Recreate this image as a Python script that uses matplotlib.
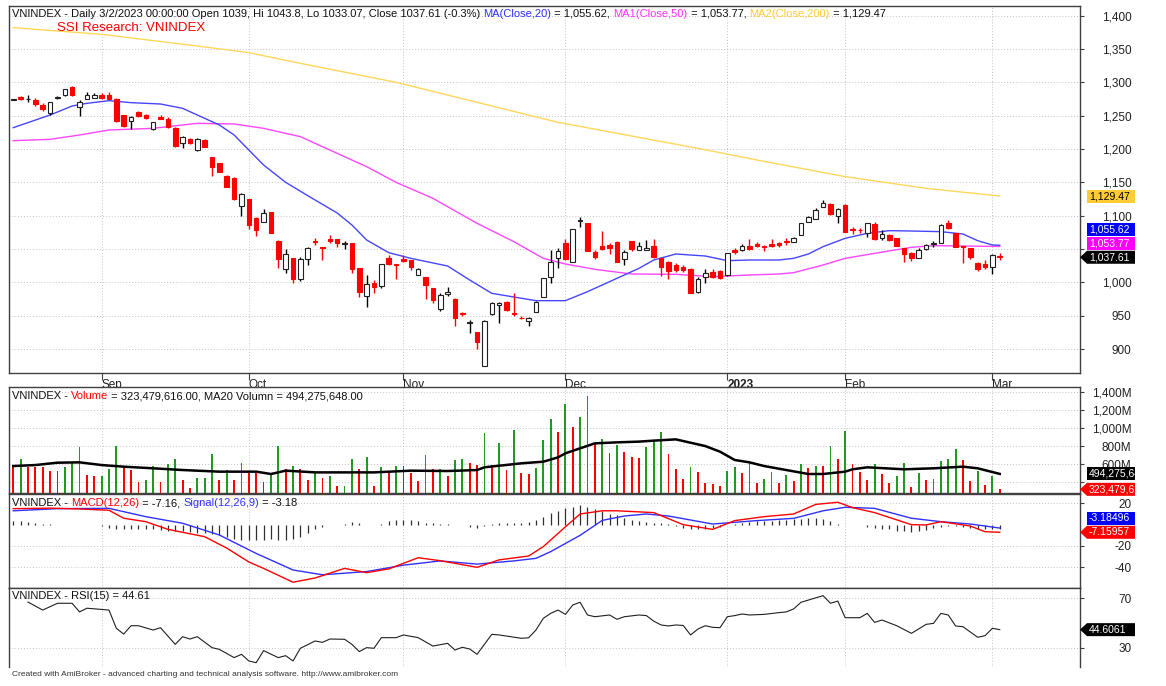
import numpy as np
import matplotlib
matplotlib.use("Agg")
import matplotlib.pyplot as plt
from matplotlib.patches import Polygon
from matplotlib.transforms import IdentityTransform, Bbox

plt.rcParams['font.family'] = ['Liberation Sans', 'DejaVu Sans']

W, H = 1166, 686

# ---- daily bars, 16 Aug 2022 .. 2 Mar 2023 (bar index 0..134) ----
opens = [1274, 1277.5, 1274.5, 1273.5, 1265.5, 1253.5, 1276.5, 1281, 1292.5, 1263.5,
         1275, 1276, 1280.5, 1280.5, 1275, 1251, 1242, 1255, 1251, 1230,
         1248, 1245, 1232, 1208.5, 1214.5, 1198.5, 1213.5, 1187.5, 1178.5, 1159.5,
         1157, 1114.5, 1124.5, 1096, 1091, 1105, 1062, 1019.5, 1036, 1004.5,
         1034.5, 1062.5, 1052.5, 1064.5, 1064.5, 1057.5, 1058.5, 1021, 980, 999.5,
         994.5, 1036, 1027.5, 1034.5, 1033.5, 1011, 1007.5, 991, 959.5, 982,
         975, 953.5, 939.5, 925, 875, 952, 966, 971, 953.5, 947,
         942, 956, 978.5, 1007.5, 1036, 1058.5, 1031, 1092, 1088.5, 1046,
         1054.5, 1056, 1060, 1035, 1062, 1048.5, 1048.5, 1054.5, 1036, 1031,
         1026, 1022.5, 1019.5, 985, 1007.5, 1016, 1017.5, 1011, 1048.5, 1048.5,
         1055, 1057.5, 1054.5, 1057.5, 1058.5, 1062.5, 1061, 1071, 1091, 1095,
         1113.5, 1117.5, 1100, 1116, 1079.5, 1079, 1073.5, 1087.5, 1067, 1071,
         1066, 1051, 1044.5, 1036, 1049.5, 1058, 1059.5, 1089.5, 1073.5, 1054,
         1051, 1028.5, 1027.5, 1022.5, 1039]
highs = [1275, 1279.5, 1281, 1276, 1268.5, 1270.5, 1279, 1290, 1294.5, 1273.5,
         1286, 1283.5, 1283.5, 1286, 1276, 1251, 1249.5, 1257, 1252.5, 1241,
         1250.5, 1247.5, 1233, 1219.5, 1217, 1216, 1214.5, 1188.5, 1179.5, 1160.5,
         1158, 1134.5, 1125, 1098.5, 1109.5, 1106, 1063, 1049.5, 1037, 1037.5,
         1053.5, 1066, 1053, 1071, 1065, 1062.5, 1059.5, 1022, 1011, 1003.5,
         1028, 1041, 1028, 1041, 1034, 1022, 1008, 992, 983.5, 992.5,
         976, 956, 943.5, 926, 943.5, 971, 971, 972.5, 983.5, 949.5,
         948.5, 972, 1007, 1048.5, 1051, 1064.5, 1080, 1097.5, 1089.5, 1048.5,
         1077.5, 1059.5, 1062.5, 1048.5, 1062.5, 1061, 1063.5, 1064.5, 1037, 1032,
         1028.5, 1026, 1021, 1008.5, 1019.5, 1019.5, 1018.5, 1044.5, 1051, 1057,
         1064.5, 1061, 1056, 1064.5, 1061, 1066, 1068.5, 1089, 1099.5, 1111,
         1123.5, 1118.5, 1111, 1117, 1082.5, 1081, 1089.5, 1091, 1078.5, 1073,
         1067, 1052, 1045.5, 1051, 1057.5, 1062.5, 1087.5, 1093.5, 1074.5, 1054.5,
         1052, 1031, 1033.5, 1042, 1043.8]
lows = [1273, 1273.5, 1271, 1264.5, 1257, 1251, 1275.5, 1280, 1280, 1250,
        1275, 1276, 1275.5, 1275.5, 1241, 1233.5, 1229.5, 1248.5, 1244.5, 1229,
        1244.5, 1231, 1203.5, 1201, 1207.5, 1197, 1202.5, 1159.5, 1165, 1142.5,
        1123, 1099.5, 1079.5, 1069.5, 1091, 1073.5, 1022, 1013.5, 999.5, 1002.5,
        1026, 1056, 1033.5, 1058.5, 1052.5, 1049.5, 1014.5, 977.5, 962.5, 984.5,
        991, 1026, 1005, 1031, 1018.5, 1011, 974.5, 969.5, 957.5, 979.5,
        935, 949.5, 923.5, 900, 874.5, 951, 939.5, 957.5, 949.5, 944.5,
        935, 955, 978, 998.5, 1021, 1033.5, 1030, 1083.5, 1046.5, 1034.5,
        1048.5, 1042.5, 1031, 1026, 1047.5, 1048.5, 1048.5, 1036, 1009.5, 1004.5,
        1016, 1016, 983.5, 983.5, 999.5, 1006, 1005.5, 1010, 1042.5, 1047.5,
        1048.5, 1053.5, 1047.5, 1053.5, 1053.5, 1056, 1061, 1070.5, 1091, 1095,
        1112.5, 1101.5, 1089.5, 1075, 1072.5, 1073.5, 1068.5, 1063.5, 1063.5, 1062.5,
        1054, 1031, 1032.5, 1036, 1048.5, 1053.5, 1058.5, 1080, 1052.5, 1029.5,
        1034.5, 1017.5, 1019.5, 1012.5, 1033.07]
closes = [1274.5, 1274.5, 1274.5, 1267.5, 1259.5, 1270.5, 1277.5, 1289.5, 1281.5, 1270,
          1281, 1281, 1276.5, 1275.5, 1242.5, 1234.5, 1248.5, 1250, 1247, 1240.5,
          1245.5, 1232.5, 1205, 1218.5, 1209.5, 1215.5, 1203.5, 1173.5, 1166, 1143.5,
          1124.5, 1132, 1086, 1078.5, 1103.5, 1074.5, 1035, 1042.5, 1004.5, 1034.5,
          1051, 1061, 1051, 1061.5, 1059.5, 1059.5, 1019.5, 986, 997.5, 992.5,
          1027, 1027, 1026.5, 1032.5, 1022.5, 1019.5, 996, 973.5, 981, 985,
          947, 953, 940.5, 910, 942.5, 968.5, 968.5, 958.5, 952.5, 946.5,
          947, 971, 1006, 1031, 1047.5, 1035, 1079.5, 1093, 1047.5, 1038.5,
          1049.5, 1051, 1031, 1046, 1049.5, 1054.5, 1052, 1037.5, 1022.5, 1017.5,
          1018.5, 1018.5, 984.5, 1004.5, 1014.5, 1007.5, 1006, 1043.5, 1046, 1055,
          1050, 1054.5, 1052.5, 1054.5, 1056, 1061, 1066, 1088.5, 1097.5, 1108.5,
          1118.5, 1102, 1109.5, 1076, 1078.5, 1078.5, 1088.5, 1064.5, 1072.5, 1063.5,
          1055, 1042.5, 1036, 1048.5, 1056, 1058.5, 1086, 1081, 1053.5, 1052.5,
          1037.5, 1020, 1022.5, 1041, 1037.61]

# volume in millions of shares
volume_m = [582, 656, 575, 575, 575, 531, 531, 568, 612, 796,
            483, 472, 476, 546, 803, 568, 538, 402, 428, 582,
            402, 604, 656, 428, 343, 446, 450, 715, 428, 538,
            428, 619, 520, 509, 409, 509, 803, 549, 582, 546,
            428, 509, 446, 476, 361, 365, 656, 549, 678, 361,
            575, 527, 582, 582, 501, 420, 704, 546, 550, 472,
            649, 656, 612, 593, 943, 593, 840, 538, 980, 501,
            494, 557, 870, 1098, 962, 1267, 1017, 1120, 1356, 832,
            880, 729, 814, 740, 677, 666, 795, 858, 954, 714,
            545, 434, 574, 519, 397, 379, 360, 526, 574, 508,
            618, 397, 434, 519, 397, 482, 419, 604, 563, 581,
            581, 806, 659, 972, 604, 519, 427, 604, 493, 390,
            474, 611, 345, 500, 427, 438, 637, 659, 769, 648,
            419, 526, 371, 474, 323.48]

# moving averages read at sample bars
ma20_bars = [0, 5, 8, 10, 13, 16, 20, 23, 25, 28, 30, 32, 34, 37, 40, 44, 46, 48, 51,
             54, 59, 62, 65, 71, 75, 78, 81, 85, 87, 90, 94, 97, 100, 104, 106, 108,
             110, 113, 116, 119, 122, 126, 129, 131, 133, 134]
ma20_vals = [1232, 1251, 1264.5, 1268.5, 1272.5, 1269.5, 1267.5, 1261, 1251, 1236, 1221,
             1198.5, 1176, 1150, 1130, 1104, 1086, 1063.5, 1044.5, 1036, 1024.5, 1003.5,
             983.5, 972.5, 972.5, 986, 1001, 1021, 1033.5, 1042.5, 1039.5, 1032.5,
             1033.5, 1033.5, 1036, 1042.5, 1053.5, 1066, 1073.5, 1077.5, 1077, 1076,
             1072.5, 1062.5, 1056, 1055.62]
ma50_bars = [0, 5, 9, 13, 19, 25, 30, 34, 39, 43, 48, 52, 57, 63, 68, 72, 75, 79, 84,
             90, 95, 100, 104, 106, 110, 113, 117, 122, 125, 129, 134]
ma50_vals = [1212.5, 1214.5, 1221, 1228.5, 1231, 1238.5, 1237.5, 1231, 1218.5, 1198.5,
             1173.5, 1150, 1126, 1088.5, 1061, 1036, 1027.5, 1019.5, 1012.5, 1012,
             1008.5, 1011, 1012.5, 1014.5, 1026, 1036, 1043.5, 1052.5, 1055, 1054.5,
             1053.77]
ma200_bars = [0, 12, 25, 32, 39, 52, 74, 93, 101, 113, 124, 134]
ma200_vals = [1382, 1372, 1354.5, 1344.5, 1328.5, 1300, 1240, 1201, 1183.5, 1158.5,
              1141, 1129.47]
vol_ma_bars = [0, 3, 6, 9, 12, 15, 19, 23, 28, 33, 35, 37, 41, 49, 54, 59, 63, 64, 69,
               72, 74, 75, 77, 79, 82, 85, 87, 90, 94, 96, 98, 100, 102, 105, 108, 110,
               113, 114, 116, 121, 125, 129, 131, 134]
vol_ma_vals = [581, 592, 618, 622, 592, 574, 556, 537, 519, 519, 493, 530, 511, 511, 530,
               526, 537, 567, 611, 629, 677, 722, 777, 832, 843, 851, 862, 876, 802, 740,
               648, 622, 581, 537, 493, 493, 519, 545, 567, 545, 556, 574, 556, 494.28]

# MACD(12,26), signal(12,26,9), histogram
macd_bars = [0, 5, 9, 13, 15, 18, 21, 26, 29, 32, 34, 38, 41, 45, 48, 51, 55, 58, 63,
             66, 70, 72, 75, 77, 80, 82, 87, 91, 95, 98, 102, 106, 109, 112, 114, 117,
             122, 124, 126, 130, 132, 134]
macd_vals = [15, 15.5, 14.7, 13.5, 6, 2.8, -4.4, -11.3, -22, -35, -41, -54, -50, -41,
             -45, -41.5, -31, -33.8, -40, -33, -29.4, -20.6, -2, 10, 13, 13, 11.3, 0,
             -4.4, 3.8, 7.5, 10, 19, 21, 16, 11.3, 0, -0.3, 2.8, -1.3, -6.6, -7.16]
signal_bars = [0, 6, 13, 18, 23, 28, 33, 38, 42, 48, 53, 58, 63, 68, 71, 73, 77, 80, 83,
               86, 89, 95, 101, 106, 110, 113, 117, 122, 126, 130, 134]
signal_vals = [13, 15, 15.3, 7.5, 1.3, -9.7, -27, -42.5, -47, -44, -38, -34, -37, -34,
               -31.6, -25.3, -10, 4, 8.1, 10, 8.1, 0.6, 3.8, 5.9, 13, 16.3, 15.3, 6, 2.8,
               0.6, -3.18]
hist_vals = [3, 3, 2.5, 2, 0.5, 0.3, 0, 0, -0.3, -0.3, -0.5, -0.5,
             -1, -3, -4.4, -4.4, -4.4, -4.4, -4.4, -4.4, -5, -5.5, -6,
             -6, -7, -8, -8, -8.5, -10, -12, -13, -14, -14,
             -14, -14, -13, -14, -14, -13,
             -12, -8, -4.4, -2, -0.5, 0, 1, 2.5, 1.5, 0, 0, 0.5,
             3, 4.4, 4.4, 4.4, 3.5, 2, 1.5, 1, 0.5, 0,
             -0.5, -2, -3, -1, 0.5, 1.5, 2, 2, 2, 2.5,
             4, 7, 11, 13, 16, 17,
             18, 17, 15, 13, 10, 9, 6, 4.4, 3, 2.5,
             2, 1.5, 0.5, -1.5, -3, -4, -4.5, -4.5, -3.5, -2, -0.5, 0.5,
             1.5, 2.5, 3, 3.5, 3.5, 4, 4.5, 5, 5.5, 6, 6, 5.5,
             3, 1, 0, 0, -0.5, -2, -3, -4, -4.5, -5.5, -6, -6.5,
             -6, -5, -3.5, -2, -1, -1, -2, -3, -4, -4.5, -4.5, -4]

# RSI(15)
rsi_bars = [2, 4, 6, 8, 9, 10, 12, 13, 14, 15, 16, 17, 19, 20, 22, 23, 24, 25, 27, 28,
            30, 31, 32, 33, 34, 36, 37, 38, 39, 41, 42, 43, 45, 46, 47, 48, 49, 50, 52,
            53, 55, 57, 59, 60, 61, 62, 63, 65, 66, 69, 70, 71, 72, 73, 74, 75, 76, 77,
            78, 79, 81, 82, 83, 85, 86, 87, 88, 89, 90, 91, 92, 93, 94, 95, 96, 97, 98,
            99, 100, 102, 104, 105, 106, 107, 108, 110, 111, 112, 113, 115, 116, 117,
            118, 120, 122, 124, 125, 126, 127, 128, 129, 131, 132, 133, 134]
rsi_vals = [67, 60.5, 66, 66, 59, 62, 61, 60.5, 45.7, 41, 47.8, 47.8, 44.3, 46.2, 32.7,
            38.9, 37, 38.9, 30, 28.6, 21.9, 24.6, 19.2, 17.8, 27.6, 21.9, 23.5, 19.2, 29.5,
            35.4, 34.3, 37, 36.8, 32.7, 26.8, 30, 29.5, 38.1, 38.1, 40.3, 38.1, 31.3, 33.5,
            28.1, 30.3, 28.9, 24.6, 40.8, 40.3, 37.6, 38, 44.3, 53.8, 57.8, 60.5, 57, 64.6,
            66.8, 56.5, 55.1, 56.5, 53, 55.1, 56.5, 56, 51.5, 48.4, 47.6, 48.4, 48, 40.3,
            45.1, 47.8, 46.5, 46.2, 55.1, 56, 57.3, 56.5, 57, 58.4, 59, 61.4, 66.8, 68.6,
            72.2, 66, 67.8, 54.3, 54.3, 57.8, 50.5, 52.4, 47.8, 41.6, 48.9, 49.7, 57.8,
            56.5, 47.6, 47, 38.4, 39.7, 45.7, 44.61]

month_bars = [12, 32, 53, 75, 97, 113, 133]
month_labels = ['Sep', 'Oct', 'Nov', 'Dec', '2023', 'Feb', 'Mar']

price_ticks = [900, 950, 1000, 1050, 1100, 1150, 1200, 1250, 1300, 1350, 1400]
vol_ticks = [400, 600, 800, 1000, 1200, 1400]
macd_ticks = [20, -20, -40]
rsi_ticks = [30, 70]

RED = '#ff0000'
GREEN = '#229922'
BLUE = '#4646ff'
MAGENTA = '#ff46ff'
YELLOW = '#ffd75a'
FRAME = '#404040'
GRID = dict(color='#c4c4c4', linestyle=(0, (1, 2)), linewidth=0.7)

fig = plt.figure(figsize=(W / 100, H / 100), dpi=100)


def pane(top, bottom):
    ax = fig.add_axes([9 / W, 1 - bottom / H, 1071 / W, (bottom - top) / H])
    ax.set_xlim(-0.58, 144.9)
    ax.set_xticks(month_bars)
    ax.set_xticklabels([])
    ax.tick_params(axis='x', length=0)
    ax.yaxis.tick_right()
    ax.tick_params(axis='y', direction='out', length=3, width=0.8, color=FRAME,
                   labelsize=8.5, labelcolor='#222222', pad=34)
    for s in ax.spines.values():
        s.set_color(FRAME)
        s.set_linewidth(1)
    ax.grid(True, **GRID)
    ax.set_axisbelow(True)
    return ax


def set_yticks(ax, ticks, labels):
    ax.set_yticks(ticks)
    ax.set_yticklabels(labels, ha='right')


ax_p = pane(6, 373)
ax_v = pane(387, 493)
ax_m = pane(494, 588)
ax_r = pane(588, 667)
ax_r.spines['bottom'].set_visible(False)

idx = np.arange(len(closes))
o = np.array(opens)
c = np.array(closes)
up = c >= o

# ---- price pane ----
ax_p.plot(ma200_bars, ma200_vals, color=YELLOW, lw=1, zorder=2)
ax_p.plot(ma50_bars, ma50_vals, color=MAGENTA, lw=1, zorder=2)
ax_p.plot(ma20_bars, ma20_vals, color=BLUE, lw=1, zorder=2)
ax_p.vlines(idx, lows, highs, colors=np.where(up, '#000000', RED), lw=1, zorder=3)
ax_p.bar(idx, np.maximum(np.abs(c - o), 0.6), bottom=np.minimum(o, c), width=0.62,
         color=np.where(up, 'white', RED), edgecolor=np.where(up, '#202020', RED),
         linewidth=0.8, zorder=4)
ax_p.set_ylim(864, 1414.5)
set_yticks(ax_p, price_ticks, [f'{t:,}' for t in price_ticks])
ax_p.set_xticklabels(month_labels, ha='left', fontsize=8.5, color='#222222')
ax_p.tick_params(axis='x', length=5, direction='out', color=FRAME, pad=-1)
ax_p.get_xticklabels()[4].set_fontweight('bold')

# ---- volume pane: green when volume rose against the previous bar ----
vol = np.array(volume_m)
vol_up = np.r_[False, vol[1:] > vol[:-1]]
ax_v.bar(idx, vol, width=0.25, color=np.where(vol_up, GREEN, RED), zorder=2)
ax_v.plot(vol_ma_bars, vol_ma_vals, color='black', lw=1.8, zorder=3)
ax_v.set_ylim(283, 1455)
set_yticks(ax_v, vol_ticks, [''] + [f'{t:,}M' for t in vol_ticks[1:]])

# ---- MACD pane ----
ax_m.vlines(idx, 0, hist_vals, colors='#303030', lw=0.9, zorder=2)
ax_m.plot(signal_bars, signal_vals, color='#3030ff', lw=1, zorder=3)
ax_m.plot(macd_bars, macd_vals, color=RED, lw=1, zorder=3)
ax_m.set_ylim(-59.4, 28.75)
set_yticks(ax_m, macd_ticks, [str(t) for t in macd_ticks])

# ---- RSI pane ----
ax_r.plot(rsi_bars, rsi_vals, color='#202020', lw=0.8)
ax_r.set_ylim(14.3, 78.4)
set_yticks(ax_r, rsi_ticks, [str(t) for t in rsi_ticks])

renderer = fig.canvas.get_renderer()


def seg_text(x_px, y_px, segments, size=8):
    probe = fig.text(0, 0, '|', fontsize=size)
    w_bar = probe.get_window_extent(renderer).width
    probe.remove()
    prefix = ''
    for txt, col in segments:
        if prefix:
            p = fig.text(0, 0, prefix + '|', fontsize=size)
            off = p.get_window_extent(renderer).width - w_bar
            p.remove()
        else:
            off = 0
        fig.text((x_px + off) / W, 1 - y_px / H, txt, color=col, fontsize=size,
                 va='center', ha='left')
        prefix += txt


def tags(ax, items, step=14):
    # items: (value, text, face, textcolor, arrow); stacked upward like AmiBroker
    pos = []
    for v, txt, fc, tc, arrow in items:
        y = H - ax.transData.transform((0, v))[1]
        pos.append([y, txt, fc, tc, arrow])
    pos.sort(key=lambda r: -r[0])
    prev = None
    boxes = []
    for r in pos:
        if prev is not None and r[0] > prev - step:
            r[0] = prev - step
        prev = r[0]
        yd = H - r[0]
        x0, x1, hh = 1087, 1135, 6.5
        boxes.append((yd - hh, yd + hh))
        pts = [(x0, yd + hh), (x1, yd + hh), (x1, yd - hh), (x0, yd - hh)]
        if r[4]:
            pts = [(1080, yd)] + pts
        fig.add_artist(Polygon(pts, closed=True, facecolor=r[2], edgecolor='none',
                               transform=IdentityTransform()))
        t = fig.text(1089 / W, yd / H, r[1], color=r[3], fontsize=7.5, va='center',
                     ha='left')
        t.set_clip_box(Bbox([[x0, yd - hh], [x1, yd + hh]]))
        t.set_clip_on(True)
    # axis labels hidden under a tag are not shown
    ticks = ax.get_yticks()
    labels = [lab.get_text() for lab in ax.get_yticklabels()]
    new = []
    for tv, lab in zip(ticks, labels):
        ty = ax.transData.transform((0, tv))[1]
        new.append('' if any(lo - 2 <= ty <= hi + 2 for lo, hi in boxes) else lab)
    ax.set_yticklabels(new, ha='right')


tags(ax_p, [(1129.47, '1,129.47', '#ffcc33', 'black', False),
            (1055.62, '1,055.62', '#0000ff', 'white', False),
            (1053.77, '1,053.77', '#ff00ff', 'white', False),
            (1037.61, '1,037.61', '#000000', 'white', True)])
tags(ax_v, [(494.28, '494,275,648', '#000000', 'white', False),
            (323.48, '323,479,616', RED, 'white', True)])
tags(ax_m, [(-3.18, '-3.18496', '#0000ff', 'white', False),
            (-7.16, '-7.15957', RED, 'white', True)])
tags(ax_r, [(44.61, '44.6061', '#000000', 'white', True)])

K = '#111111'
seg_text(12, 14, [('VNINDEX - Daily 3/2/2023 00:00:00 Open 1039, Hi 1043.8, Lo 1033.07, '
                   'Close 1037.61 (-0.3%) ', K), ('MA(Close,20)', '#3030ff'),
                  (' = 1,055.62, ', K), ('MA1(Close,50)', '#ff30ff'), (' = 1,053.77, ', K),
                  ('MA2(Close,200)', '#ffcc33'), (' = 1,129.47', K)])
fig.text(57 / W, 1 - 28 / H, 'SSI Research: VNINDEX', color=RED, fontsize=9.5,
         va='center')
seg_text(12, 396, [('VNINDEX - ', K), ('Volume', RED),
                   (' = 323,479,616.00, MA20 Volumn = 494,275,648.00', K)])
seg_text(12, 503, [('VNINDEX - ', K), ('MACD(12,26)', RED), (' = -7.16, ', K),
                   ('Signal(12,26,9)', '#3030ff'), (' = -3.18', K)])
seg_text(12, 596, [('VNINDEX - RSI(15) = 44.61', K)])
fig.text(12 / W, 1 - 675 / H, 'Created with AmiBroker - advanced charting and technical '
         'analysis software. http://www.amibroker.com', fontsize=6, color='#333333',
         va='center')

fig.savefig('out.png', dpi=100)
